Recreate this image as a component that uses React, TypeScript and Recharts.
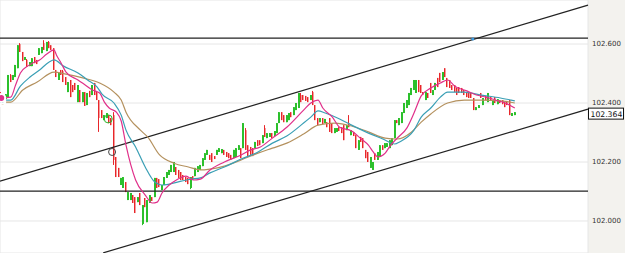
import {
  Bar,
  CartesianGrid,
  ComposedChart,
  Line,
  ReferenceDot,
  ReferenceLine,
  XAxis,
  YAxis,
} from 'recharts';

// open, high, low, close
const candles: number[][] = [
  [102.434, 102.437, 102.413, 102.413],
  [102.427, 102.430, 102.410, 102.410],
  [102.413, 102.430, 102.413, 102.430],
  [102.420, 102.495, 102.417, 102.495],
  [102.495, 102.498, 102.471, 102.471],
  [102.478, 102.495, 102.478, 102.495],
  [102.488, 102.529, 102.488, 102.529],
  [102.518, 102.596, 102.518, 102.596],
  [102.600, 102.603, 102.573, 102.573],
  [102.573, 102.573, 102.542, 102.542],
  [102.546, 102.556, 102.546, 102.556],
  [102.546, 102.549, 102.522, 102.522],
  [102.525, 102.539, 102.525, 102.539],
  [102.525, 102.552, 102.525, 102.552],
  [102.556, 102.556, 102.535, 102.535],
  [102.546, 102.546, 102.532, 102.532],
  [102.563, 102.586, 102.563, 102.586],
  [102.569, 102.590, 102.569, 102.590],
  [102.603, 102.613, 102.580, 102.580],
  [102.576, 102.607, 102.576, 102.607],
  [102.607, 102.610, 102.586, 102.586],
  [102.596, 102.596, 102.580, 102.580],
  [102.586, 102.586, 102.512, 102.512],
  [102.512, 102.512, 102.488, 102.488],
  [102.478, 102.502, 102.478, 102.502],
  [102.512, 102.512, 102.495, 102.495],
  [102.508, 102.512, 102.471, 102.471],
  [102.488, 102.488, 102.461, 102.461],
  [102.437, 102.471, 102.437, 102.471],
  [102.478, 102.478, 102.420, 102.420],
  [102.461, 102.461, 102.437, 102.437],
  [102.468, 102.468, 102.444, 102.444],
  [102.403, 102.461, 102.403, 102.461],
  [102.444, 102.444, 102.403, 102.403],
  [102.403, 102.437, 102.403, 102.437],
  [102.437, 102.437, 102.390, 102.390],
  [102.393, 102.434, 102.393, 102.434],
  [102.441, 102.441, 102.420, 102.420],
  [102.427, 102.461, 102.427, 102.461],
  [102.468, 102.468, 102.427, 102.427],
  [102.437, 102.441, 102.410, 102.410],
  [102.410, 102.410, 102.302, 102.349],
  [102.376, 102.376, 102.349, 102.349],
  [102.342, 102.359, 102.342, 102.359],
  [102.349, 102.366, 102.349, 102.366],
  [102.359, 102.359, 102.332, 102.332],
  [102.349, 102.349, 102.325, 102.325],
  [102.359, 102.369, 102.190, 102.207],
  [102.217, 102.217, 102.149, 102.149],
  [102.180, 102.180, 102.149, 102.149],
  [102.122, 102.146, 102.122, 102.146],
  [102.112, 102.149, 102.112, 102.149],
  [102.132, 102.132, 102.098, 102.098],
  [102.071, 102.098, 102.071, 102.098],
  [102.071, 102.095, 102.071, 102.095],
  [102.088, 102.088, 102.061, 102.061],
  [102.081, 102.081, 102.027, 102.027],
  [102.064, 102.081, 102.064, 102.081],
  [102.095, 102.095, 102.054, 102.054],
  [101.990, 102.054, 101.986, 102.054],
  [102.078, 102.078, 102.047, 102.047],
  [101.996, 102.071, 101.996, 102.071],
  [102.061, 102.088, 102.061, 102.088],
  [102.081, 102.081, 102.068, 102.068],
  [102.081, 102.146, 102.081, 102.146],
  [102.146, 102.146, 102.112, 102.112],
  [102.142, 102.142, 102.115, 102.115],
  [102.105, 102.122, 102.105, 102.122],
  [102.122, 102.149, 102.122, 102.149],
  [102.146, 102.166, 102.146, 102.166],
  [102.156, 102.173, 102.156, 102.173],
  [102.166, 102.190, 102.166, 102.190],
  [102.166, 102.200, 102.166, 102.200],
  [102.183, 102.183, 102.156, 102.156],
  [102.173, 102.173, 102.146, 102.146],
  [102.166, 102.166, 102.139, 102.139],
  [102.156, 102.156, 102.139, 102.139],
  [102.149, 102.149, 102.132, 102.132],
  [102.146, 102.146, 102.125, 102.125],
  [102.112, 102.149, 102.108, 102.149],
  [102.152, 102.152, 102.139, 102.139],
  [102.152, 102.180, 102.152, 102.180],
  [102.166, 102.186, 102.166, 102.186],
  [102.173, 102.190, 102.173, 102.190],
  [102.186, 102.213, 102.186, 102.213],
  [102.207, 102.230, 102.207, 102.230],
  [102.224, 102.241, 102.224, 102.241],
  [102.224, 102.224, 102.207, 102.207],
  [102.230, 102.230, 102.200, 102.200],
  [102.220, 102.220, 102.210, 102.210],
  [102.224, 102.241, 102.224, 102.241],
  [102.234, 102.247, 102.234, 102.247],
  [102.230, 102.244, 102.230, 102.244],
  [102.241, 102.241, 102.224, 102.224],
  [102.234, 102.234, 102.217, 102.217],
  [102.230, 102.230, 102.213, 102.213],
  [102.224, 102.224, 102.207, 102.207],
  [102.213, 102.241, 102.213, 102.241],
  [102.217, 102.247, 102.217, 102.247],
  [102.241, 102.257, 102.241, 102.257],
  [102.247, 102.247, 102.213, 102.213],
  [102.247, 102.332, 102.247, 102.332],
  [102.308, 102.315, 102.241, 102.241],
  [102.257, 102.257, 102.217, 102.217],
  [102.251, 102.251, 102.224, 102.224],
  [102.247, 102.247, 102.220, 102.220],
  [102.247, 102.268, 102.247, 102.268],
  [102.274, 102.274, 102.254, 102.254],
  [102.274, 102.274, 102.257, 102.257],
  [102.264, 102.291, 102.264, 102.291],
  [102.315, 102.325, 102.285, 102.285],
  [102.281, 102.298, 102.281, 102.298],
  [102.285, 102.298, 102.285, 102.298],
  [102.298, 102.298, 102.281, 102.281],
  [102.288, 102.305, 102.288, 102.305],
  [102.298, 102.332, 102.298, 102.332],
  [102.332, 102.369, 102.332, 102.369],
  [102.369, 102.369, 102.342, 102.342],
  [102.359, 102.359, 102.335, 102.335],
  [102.335, 102.359, 102.335, 102.359],
  [102.342, 102.366, 102.342, 102.366],
  [102.369, 102.369, 102.352, 102.352],
  [102.359, 102.386, 102.359, 102.386],
  [102.376, 102.400, 102.376, 102.400],
  [102.383, 102.434, 102.383, 102.434],
  [102.427, 102.434, 102.403, 102.403],
  [102.427, 102.427, 102.410, 102.410],
  [102.424, 102.424, 102.407, 102.407],
  [102.420, 102.420, 102.403, 102.403],
  [102.410, 102.427, 102.410, 102.427],
  [102.437, 102.441, 102.393, 102.393],
  [102.393, 102.393, 102.342, 102.342],
  [102.349, 102.349, 102.325, 102.325],
  [102.335, 102.349, 102.335, 102.349],
  [102.349, 102.349, 102.329, 102.329],
  [102.332, 102.346, 102.332, 102.346],
  [102.335, 102.335, 102.318, 102.318],
  [102.349, 102.349, 102.302, 102.302],
  [102.332, 102.332, 102.298, 102.298],
  [102.298, 102.315, 102.298, 102.315],
  [102.302, 102.315, 102.302, 102.315],
  [102.318, 102.318, 102.305, 102.305],
  [102.318, 102.318, 102.298, 102.298],
  [102.325, 102.325, 102.274, 102.274],
  [102.308, 102.325, 102.308, 102.325],
  [102.332, 102.359, 102.318, 102.318],
  [102.291, 102.308, 102.291, 102.308],
  [102.302, 102.302, 102.288, 102.288],
  [102.291, 102.291, 102.247, 102.247],
  [102.241, 102.274, 102.241, 102.274],
  [102.285, 102.285, 102.268, 102.268],
  [102.281, 102.281, 102.247, 102.247],
  [102.241, 102.241, 102.213, 102.213],
  [102.234, 102.234, 102.200, 102.200],
  [102.180, 102.217, 102.180, 102.217],
  [102.173, 102.200, 102.173, 102.200],
  [102.230, 102.230, 102.207, 102.207],
  [102.207, 102.234, 102.207, 102.234],
  [102.217, 102.257, 102.217, 102.257],
  [102.257, 102.257, 102.241, 102.241],
  [102.247, 102.264, 102.247, 102.264],
  [102.251, 102.264, 102.251, 102.264],
  [102.247, 102.274, 102.247, 102.274],
  [102.257, 102.281, 102.257, 102.281],
  [102.281, 102.342, 102.281, 102.342],
  [102.342, 102.342, 102.332, 102.332],
  [102.325, 102.349, 102.325, 102.349],
  [102.332, 102.369, 102.332, 102.369],
  [102.366, 102.400, 102.366, 102.400],
  [102.383, 102.410, 102.383, 102.410],
  [102.393, 102.434, 102.393, 102.434],
  [102.427, 102.451, 102.427, 102.451],
  [102.444, 102.478, 102.444, 102.478],
  [102.434, 102.478, 102.434, 102.478],
  [102.478, 102.478, 102.437, 102.437],
  [102.461, 102.461, 102.434, 102.434],
  [102.437, 102.437, 102.427, 102.427],
  [102.410, 102.437, 102.410, 102.437],
  [102.434, 102.434, 102.417, 102.417],
  [102.468, 102.468, 102.434, 102.434],
  [102.427, 102.444, 102.427, 102.444],
  [102.444, 102.468, 102.444, 102.468],
  [102.485, 102.485, 102.454, 102.454],
  [102.502, 102.502, 102.471, 102.471],
  [102.478, 102.505, 102.478, 102.505],
  [102.518, 102.518, 102.488, 102.488],
  [102.485, 102.485, 102.454, 102.454],
  [102.478, 102.478, 102.451, 102.451],
  [102.461, 102.461, 102.444, 102.444],
  [102.461, 102.461, 102.437, 102.437],
  [102.451, 102.451, 102.427, 102.427],
  [102.454, 102.454, 102.434, 102.434],
  [102.451, 102.451, 102.434, 102.434],
  [102.444, 102.444, 102.427, 102.427],
  [102.437, 102.437, 102.420, 102.420],
  [102.437, 102.437, 102.417, 102.417],
  [102.434, 102.434, 102.417, 102.417],
  [102.417, 102.417, 102.376, 102.376],
  [102.376, 102.386, 102.376, 102.386],
  [102.383, 102.393, 102.383, 102.393],
  [102.434, 102.434, 102.417, 102.417],
  [102.393, 102.417, 102.393, 102.417],
  [102.424, 102.424, 102.410, 102.410],
  [102.403, 102.434, 102.403, 102.434],
  [102.420, 102.420, 102.407, 102.407],
  [102.393, 102.410, 102.393, 102.410],
  [102.420, 102.420, 102.400, 102.400],
  [102.396, 102.413, 102.396, 102.413],
  [102.410, 102.410, 102.400, 102.400],
  [102.410, 102.410, 102.396, 102.396],
  [102.403, 102.403, 102.386, 102.386],
  [102.407, 102.407, 102.393, 102.393],
  [102.410, 102.410, 102.359, 102.359],
  [102.356, 102.366, 102.356, 102.366],
  [102.359, 102.369, 102.359, 102.369],
];

// moving averages: [bar index, value]
const fastMa: number[][] = [
  [0, 102.417], [4, 102.420], [6, 102.461], [8, 102.502], [11, 102.525], [13, 102.535],
  [16, 102.546], [19, 102.566], [22, 102.580], [23, 102.563], [25, 102.535], [27, 102.505],
  [32, 102.478], [35, 102.461], [38, 102.444], [41, 102.434], [43, 102.403], [45, 102.383],
  [48, 102.369], [50, 102.339], [52, 102.257], [54, 102.190], [56, 102.139], [60, 102.088],
  [63, 102.061], [65, 102.064], [67, 102.095], [70, 102.122], [73, 102.139], [77, 102.152],
  [80, 102.139], [83, 102.142], [87, 102.173], [93, 102.200], [100, 102.224], [104, 102.241],
  [108, 102.251], [113, 102.281], [119, 102.318], [126, 102.376], [129, 102.400], [132, 102.410],
  [134, 102.383], [138, 102.352], [141, 102.318], [146, 102.305], [150, 102.278], [153, 102.257],
  [155, 102.234], [157, 102.217], [160, 102.230], [162, 102.254], [165, 102.281], [169, 102.315],
  [172, 102.366], [175, 102.424], [179, 102.451], [183, 102.468], [186, 102.478], [189, 102.457],
  [194, 102.441], [198, 102.427], [202, 102.420], [206, 102.410], [210, 102.400], [214, 102.383],
];
const midMa: number[][] = [
  [0, 102.410], [4, 102.410], [8, 102.457], [12, 102.488], [16, 102.512], [20, 102.539],
  [22, 102.546], [26, 102.525], [32, 102.502], [36, 102.478], [40, 102.454], [42, 102.430],
  [47, 102.400], [50, 102.359], [52, 102.308], [56, 102.251], [60, 102.183], [64, 102.132],
  [67, 102.122], [70, 102.125], [75, 102.135], [79, 102.142], [83, 102.146], [87, 102.163],
  [93, 102.183], [100, 102.210], [107, 102.234], [113, 102.264], [119, 102.288], [126, 102.332],
  [129, 102.352], [132, 102.373], [135, 102.366], [141, 102.346], [146, 102.325], [153, 102.298],
  [159, 102.278], [164, 102.261], [166, 102.268], [172, 102.308], [175, 102.352], [179, 102.383],
  [183, 102.420], [186, 102.437], [193, 102.437], [200, 102.427], [208, 102.417], [214, 102.407],
];
const slowMa: number[][] = [
  [0, 102.403], [4, 102.403], [9, 102.444], [15, 102.471], [22, 102.505], [27, 102.498],
  [34, 102.485], [41, 102.468], [47, 102.437], [50, 102.410], [52, 102.369], [58, 102.308],
  [61, 102.285], [66, 102.224], [72, 102.196], [78, 102.183], [83, 102.173], [87, 102.176],
  [93, 102.186], [100, 102.207], [107, 102.230], [113, 102.247], [119, 102.264], [126, 102.295],
  [132, 102.325], [139, 102.332], [146, 102.322], [153, 102.302], [160, 102.281], [165, 102.278],
  [171, 102.302], [175, 102.335], [179, 102.363], [186, 102.400], [193, 102.410], [200, 102.410],
  [208, 102.407], [214, 102.400],
];

const priceTicks = [102.0, 102.2, 102.4, 102.6];
const timeTicks = [14.6, 58.3, 102.1, 145.8, 189.6, 233.3];
const slots = 245;
const lastPrice = 102.364;

// drawn lines: horizontal levels and the channel
const levels = [102.62, 102.101];
const upperChannel = [
  { x: 0, y: 102.135 },
  { x: 245, y: 102.732 },
];
const lowerChannel = [
  { x: 43, y: 101.892 },
  { x: 245, y: 102.379 },
];

const rows = candles.map((c, i) => ({
  t: i + 0.5,
  o: c[0],
  h: c[1],
  l: c[2],
  c: c[3],
  range: [c[2], c[1]],
  fast: null as number | null,
  mid: null as number | null,
  slow: null as number | null,
}));
fastMa.forEach(([i, v]) => rows[i] && (rows[i].fast = v));
midMa.forEach(([i, v]) => rows[i] && (rows[i].mid = v));
slowMa.forEach(([i, v]) => rows[i] && (rows[i].slow = v));

function Candle(props: any) {
  const { x, y, width, height, payload } = props;
  if (!payload || height == null) return null;
  const { o, h, l, c } = payload;
  const k = h - l > 0 ? height / (h - l) : 0;
  const py = (v: number) => y + (h - v) * k;
  const cx = Math.round(x + width / 2);
  const up = c >= o;
  const top = py(Math.max(o, c));
  const bot = py(Math.min(o, c));
  const body = up ? '#2cc02c' : '#f59c9c';
  const wick = up ? '#2cc02c' : '#e8262a';
  return (
    <g>
      <rect x={cx - 1} y={top} width={2} height={Math.max(1, bot - top)} fill={body} />
      <line x1={cx - 0.5} x2={cx - 0.5} y1={y} y2={y + height} stroke={wick} strokeWidth={1} />
    </g>
  );
}

function PriceTag(props: any) {
  const vb = props.viewBox || {};
  const x = (vb.x || 0) + (vb.width || 0);
  const y = vb.y || 0;
  return (
    <g>
      <rect x={x + 0.5} y={y - 5.5} width={35} height={11} fill="#fff" stroke="#111" strokeWidth={1} />
      <text x={x + 2.5} y={y + 3} fontSize={7.7} fontFamily="DejaVu Sans" fill="#111">
        {lastPrice.toFixed(3)}
      </text>
    </g>
  );
}

export default function App() {
  return (
    <div
      style={{
        position: 'absolute',
        left: 0,
        top: 0,
        width: 625,
        height: 253,
        background: 'linear-gradient(to right, #ffffff 588px, #f3f2ee 588px)',
      }}
    >
      <ComposedChart width={625} height={253} data={rows} margin={{ top: 0, right: 0, bottom: 0, left: 0 }}>
        <CartesianGrid stroke="#e6e6e6" />
        <XAxis
          dataKey="t"
          type="number"
          domain={[0, slots]}
          allowDataOverflow
          ticks={timeTicks}
          height={0}
          tick={false}
          axisLine={false}
          tickLine={false}
        />
        <YAxis
          orientation="right"
          width={37}
          type="number"
          domain={[101.8915, 102.7492]}
          allowDataOverflow
          ticks={priceTicks}
          tickFormatter={(v: number) => v.toFixed(3)}
          tick={{ fontSize: 7, fontFamily: 'DejaVu Sans', fill: '#333' }}
          axisLine={false}
          tickLine={false}
          tickSize={0}
          tickMargin={4}
        />
        {levels.map((v) => (
          <ReferenceLine key={v} y={v} stroke="#222" strokeWidth={1.2} />
        ))}
        <ReferenceLine segment={upperChannel} stroke="#222" strokeWidth={1.2} ifOverflow="visible" />
        <ReferenceLine segment={lowerChannel} stroke="#222" strokeWidth={1.2} ifOverflow="visible" />
        <Bar dataKey="range" barSize={2} shape={(p: any) => <Candle {...p} />} isAnimationActive={false} />
        <Line dataKey="slow" type="monotone" stroke="#b4915e" strokeWidth={1.2} dot={false} connectNulls isAnimationActive={false} />
        <Line dataKey="mid" type="monotone" stroke="#3a9fb5" strokeWidth={1.2} dot={false} connectNulls isAnimationActive={false} />
        <Line dataKey="fast" type="monotone" stroke="#e0308a" strokeWidth={1.2} dot={false} connectNulls isAnimationActive={false} />
        <ReferenceDot x={45.1} y={102.346} r={4} fill="none" stroke="#2cb52c" strokeWidth={1} />
        <ReferenceDot x={46.7} y={102.234} r={3.5} fill="none" stroke="#444" strokeWidth={1} />
        <ReferenceDot x={197} y={102.617} r={1.5} fill="#3d9be0" stroke="none" />
        <ReferenceLine y={lastPrice} stroke="none" label={<PriceTag />} />
      </ComposedChart>
    </div>
  );
}
